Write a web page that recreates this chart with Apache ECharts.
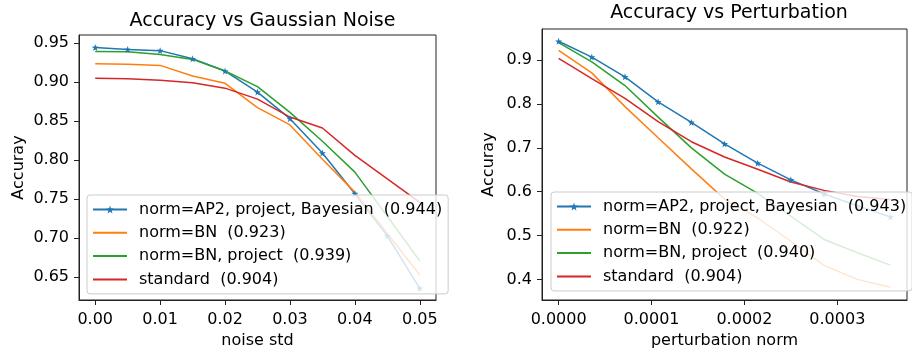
<!DOCTYPE html>
<html>
<head>
<meta charset="utf-8">
<script src="https://cdn.jsdelivr.net/npm/echarts@6/dist/echarts.min.js"></script>
<style>
  html, body { margin: 0; padding: 0; background: #fff; }
  #chart { width: 912px; height: 354px; }
</style>
</head>
<body>
<div id="chart"></div>
<script>
// left panel: accuracy vs gaussian noise
const noiseStd = [0, 0.005, 0.01, 0.015, 0.02, 0.025, 0.03, 0.035, 0.04, 0.045, 0.05]
const noiseAP2 = [0.944, 0.9415, 0.940, 0.9296, 0.9139, 0.887, 0.853, 0.809, 0.757, 0.703, 0.636]
const noiseBN = [0.9233, 0.9225, 0.9211, 0.9075, 0.8982, 0.867, 0.845, 0.801, 0.759, 0.706, 0.653]
const noiseBNproj = [0.939, 0.9385, 0.935, 0.9288, 0.914, 0.894, 0.861, 0.824, 0.7846, 0.728, 0.671]
const noiseStandard = [0.9046, 0.904, 0.902, 0.899, 0.892, 0.878, 0.855, 0.841, 0.806, 0.776, 0.746]
const noiseXTicks = [0, 0.01, 0.02, 0.03, 0.04, 0.05]
const noiseYTicks = [0.65, 0.70, 0.75, 0.80, 0.85, 0.90, 0.95]

// right panel: accuracy vs perturbation norm
const pertNorm = [0, 0.0000357, 0.0000714, 0.0001071, 0.0001429, 0.0001786, 0.0002143, 0.00025, 0.0002857, 0.0003214, 0.0003571]
const pertAP2 = [0.943, 0.907, 0.862, 0.805, 0.758, 0.709, 0.665, 0.627, 0.595, 0.568, 0.5425]
const pertBN = [0.922, 0.871, 0.794, 0.723, 0.652, 0.583, 0.540, 0.487, 0.432, 0.400, 0.382]
const pertBNproj = [0.940, 0.896, 0.842, 0.770, 0.700, 0.640, 0.596, 0.544, 0.491, 0.461, 0.4325]
const pertStandard = [0.904, 0.858, 0.813, 0.760, 0.714, 0.679, 0.651, 0.622, 0.603, 0.589, 0.582]
const pertXTicks = [0, 0.0001, 0.0002, 0.0003]
const pertYTicks = [0.4, 0.5, 0.6, 0.7, 0.8, 0.9]

const leftNames = ['norm=AP2, project, Bayesian  (0.944)', 'norm=BN  (0.923)', 'norm=BN, project  (0.939)', 'standard  (0.904)']
const rightNames = ['norm=AP2, project, Bayesian  (0.943)', 'norm=BN  (0.922)', 'norm=BN, project  (0.940)', 'standard  (0.904) ']

const colors = ['#1f77b4', '#ff7f0e', '#2ca02c', '#d62728']
const star = 'path://M0,-10L2.35,-3.24L9.51,-3.09L3.8,1.24L5.88,8.09L0,4L-5.88,8.09L-3.8,1.24L-9.51,-3.09L-2.35,-3.24Z'
const font = 'DejaVu Sans'

function pairs(xs, ys) {
  return xs.map((x, i) => [x, ys[i]])
}

function makeSeries(name, xs, ys, idx, color, marker) {
  return {
    name: name,
    type: 'line',
    xAxisIndex: idx,
    yAxisIndex: idx,
    data: pairs(xs, ys),
    showSymbol: marker,
    symbol: marker ? star : 'none',
    symbolSize: 7,
    lineStyle: { color: color, width: 1.5 },
    itemStyle: { color: color },
    animation: false,
    z: 2
  }
}

function xAxisOf(idx, min, max, ticks, digits, name) {
  return {
    type: 'value', gridIndex: idx, min: min, max: max,
    name: name, nameLocation: 'middle', nameGap: 33,
    nameTextStyle: { fontFamily: font, fontSize: 16, color: '#000' },
    axisLine: { show: true, onZero: false, lineStyle: { color: '#222', width: 1 } },
    axisTick: { show: true, inside: false, length: 5, customValues: ticks, lineStyle: { color: '#222' } },
    axisLabel: { customValues: ticks, margin: 12, fontFamily: font, fontSize: 16, color: '#000',
      formatter: v => v.toFixed(digits) },
    splitLine: { show: false }
  }
}

function yAxisOf(idx, min, max, ticks, digits, gap) {
  return {
    type: 'value', gridIndex: idx, min: min, max: max,
    name: 'Accuray', nameLocation: 'middle', nameRotate: 90, nameGap: gap,
    nameTextStyle: { fontFamily: font, fontSize: 16, color: '#000' },
    axisLine: { show: true, onZero: false, lineStyle: { color: '#222', width: 1 } },
    axisTick: { show: true, inside: false, length: 5, customValues: ticks, lineStyle: { color: '#222' } },
    axisLabel: { customValues: ticks, margin: 10, fontFamily: font, fontSize: 16, color: '#000',
      formatter: v => v.toFixed(digits) },
    splitLine: { show: false }
  }
}

function legendOf(names, left, top) {
  return {
    data: names.map((n, i) => i === 0 ? { name: n } : { name: n, itemStyle: { opacity: 0 } }),
    orient: 'vertical',
    left: left, top: top,
    itemWidth: 34, itemHeight: 10, itemGap: 6.3,
    padding: [6, 6, 6, 5],
    backgroundColor: 'rgba(255,255,255,0.8)',
    borderColor: '#cccccc', borderWidth: 1, borderRadius: 3,
    textStyle: { fontFamily: font, fontSize: 16, color: '#000', lineHeight: 17, padding: [0, 0, 0, 7] },
    selectedMode: false,
    z: 10
  }
}

let chart = echarts.init(document.getElementById('chart'))

chart.setOption({
  backgroundColor: '#fff',
  animation: false,
  title: [
    { text: 'Accuracy vs Gaussian Noise', left: 257.5, top: 7, textAlign: 'center',
      textStyle: { fontFamily: font, fontSize: 19, fontWeight: 'normal', color: '#000' } },
    { text: 'Accuracy vs Perturbation', left: 724, top: -1, textAlign: 'center',
      textStyle: { fontFamily: font, fontSize: 19, fontWeight: 'normal', color: '#000' } }
  ],
  grid: [
    { left: 79, top: 35, width: 357, height: 267, show: true, borderColor: '#222', borderWidth: 1, backgroundColor: 'transparent' },
    { left: 542, top: 29, width: 365, height: 271, show: true, borderColor: '#222', borderWidth: 1, backgroundColor: 'transparent' }
  ],
  xAxis: [
    xAxisOf(0, -0.0025, 0.0525, noiseXTicks, 2, 'noise std'),
    xAxisOf(1, -0.0000179, 0.000375, pertXTicks, 4, 'perturbation norm')
  ],
  yAxis: [
    yAxisOf(0, 0.621, 0.960, noiseYTicks, 2, 52),
    yAxisOf(1, 0.353, 0.971, pertYTicks, 1, 45)
  ],
  legend: [
    legendOf(leftNames, 87, 195),
    legendOf(rightNames, 551, 192)
  ],
  series: [
    makeSeries(leftNames[0], noiseStd, noiseAP2, 0, colors[0], true),
    makeSeries(leftNames[1], noiseStd, noiseBN, 0, colors[1], false),
    makeSeries(leftNames[2], noiseStd, noiseBNproj, 0, colors[2], false),
    makeSeries(leftNames[3], noiseStd, noiseStandard, 0, colors[3], false),
    makeSeries(rightNames[0], pertNorm, pertAP2, 1, colors[0], true),
    makeSeries(rightNames[1], pertNorm, pertBN, 1, colors[1], false),
    makeSeries(rightNames[2], pertNorm, pertBNproj, 1, colors[2], false),
    makeSeries(rightNames[3], pertNorm, pertStandard, 1, colors[3], false)
  ]
})
</script>
</body>
</html>
